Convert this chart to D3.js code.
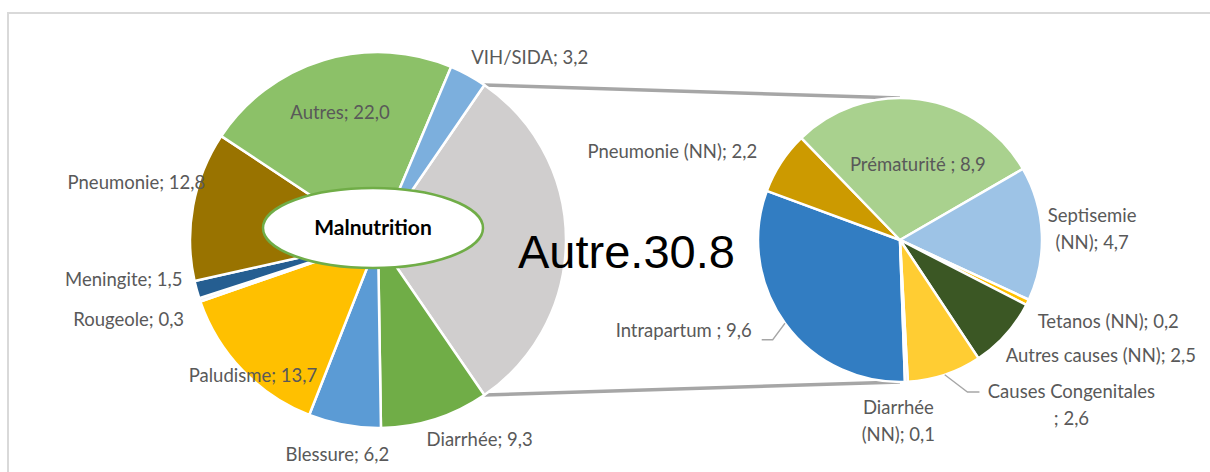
<!DOCTYPE html>
<html>
<head>
<meta charset="utf-8">
<script src="https://cdn.jsdelivr.net/npm/d3@7"></script>
<style>
    body { margin: 0; background: #fff; }
    svg text { font-family: Lato, "Open Sans", sans-serif; }
</style>
</head>
<body>
<svg id="chart" width="1210" height="472"></svg>
<script>
// main pie (clockwise, starting with the split "Autre" slice)
const main_names = ["Autre", "Diarrhée", "Blessure", "Paludisme", "Rougeole", "Meningite", "Pneumonie", "Autres", "VIH/SIDA"];
const main_values = [30.8, 9.3, 6.2, 13.7, 0.3, 1.5, 12.8, 22.0, 3.2];
const main_colors = ["#d0cece", "#70ad47", "#5b9bd5", "#ffc000", "#f4f4f4", "#255e91", "#997300", "#8cc168", "#7cafdd"];

// secondary pie : breakdown of "Autre"
const sub_names = ["Intrapartum ", "Pneumonie (NN)", "Prématurité ", "Septisemie (NN)", "Tetanos (NN)", "Autres causes (NN)", "Causes Congenitales ", "Diarrhée (NN)"];
const sub_values = [9.6, 2.2, 8.9, 4.7, 0.2, 2.5, 2.6, 0.1];
const sub_colors = ["#327dc2", "#cc9a00", "#a9d18e", "#9dc3e6", "#ffc000", "#3b5724", "#ffcd33", "#e0e0e0"];

const center_label = "Malnutrition";
const split_label = "Autre.30.8";

// label placement: k = radial factor from slice middle, dx/dy = nudge
const main_layout = {
    "Autre":     null,
    "Diarrhée":  { k: 1.15, dx: 36, dy: -6, anchor: "middle" },
    "Blessure":  { k: 1.15, dx: -2, dy: 2, anchor: "middle" },
    "Paludisme": { k: 0.9, dx: -3, dy: 18, anchor: "middle" },
    "Rougeole":  { k: 1.15, dx: 11, dy: 11, anchor: "end" },
    "Meningite": { k: 1.15, dx: 13, dy: -18, anchor: "end" },
    "Pneumonie": { k: 1.15, dx: -29, dy: -18, anchor: "middle" },
    "Autres":    { k: 0.7, dx: 0, dy: -1, anchor: "middle" },
    "VIH/SIDA":  { k: 1.15, dx: 48, dy: 7, anchor: "middle" }
};
const sub_layout = {
    "Intrapartum ":         { k: 1.15, dx: -16, dy: -5, anchor: "end", leader: [[10, 9], [21, 9]] },
    "Pneumonie (NN)":       { k: 1.15, dx: -6, dy: 1, anchor: "end" },
    "Prématurité ":         { k: 0.55, dx: 7, dy: 2, anchor: "middle" },
    "Septisemie (NN)":      { k: 1.15, dx: 29, dy: -4, anchor: "middle", br: " (NN)" },
    "Tetanos (NN)":         { k: 1.15, dx: -9, dy: 10, anchor: "start" },
    "Autres causes (NN)":   { k: 1.15, dx: -16, dy: 7, anchor: "start" },
    "Causes Congenitales ": { k: 1.15, dx: 120, dy: 10, anchor: "middle", br: " ;", leader: [[-92, -13], [-104, -13]] },
    "Diarrhée (NN)":        { k: 1.15, dx: -9, dy: 18, anchor: "middle", br: " (NN)" }
};

const main_pie_c = { x: 378, y: 240, r: 188 };
const sub_pie_c = { x: 900, y: 240, r: 142 };
const fmt = v => d3.format(".1f")(v).replace(".", ",");
const lineH = 27;

const svg = d3.select("#chart");

// frame
svg.append("path")
    .attr("d", "M8,472 V13 H1210")
    .attr("fill", "none")
    .attr("stroke", "#d9d9d9")
    .attr("stroke-width", 2);

function polar(c, a, dist) {
    return [c.x + dist * Math.sin(a), c.y - dist * Math.cos(a)];
}

let main_total = d3.sum(main_values);
let main_start = Math.PI / 2 - (main_values[0] / main_total) * Math.PI;
let main_pie = d3.pie().sort(null).startAngle(main_start).endAngle(main_start + 2 * Math.PI);
let main_arcs = main_pie(main_values).map((d, i) => ({ ...d, name: main_names[i], color: main_colors[i] }));

let sub_start = 178 / 180 * Math.PI;
let sub_pie = d3.pie().sort(null).startAngle(sub_start).endAngle(sub_start + 2 * Math.PI);
let sub_arcs = sub_pie(sub_values).map((d, i) => ({ ...d, name: sub_names[i], color: sub_colors[i] }));

// series lines between the two pies
let split = main_arcs[0];
let series_lines = [
    [polar(main_pie_c, split.startAngle, main_pie_c.r), polar(sub_pie_c, 0, sub_pie_c.r)],
    [polar(main_pie_c, split.endAngle, main_pie_c.r), polar(sub_pie_c, Math.PI, sub_pie_c.r)]
];
svg.append("g").classed("series_lines", true)
    .selectAll("path")
    .data(series_lines)
    .enter()
    .append("path")
    .attr("d", d3.line())
    .attr("stroke", "#a6a6a6")
    .attr("stroke-width", 3.5)
    .attr("fill", "none");

function draw_pie(arcs, c, cls) {
    let arc = d3.arc().innerRadius(0).outerRadius(c.r);
    svg.append("g")
        .classed(cls, true)
        .attr("transform", `translate(${c.x}, ${c.y})`)
        .selectAll("path")
        .data(arcs)
        .enter()
        .append("path")
        .attr("d", arc)
        .attr("fill", d => d.color)
        .attr("stroke", "#fff")
        .attr("stroke-width", 2.5)
        .attr("stroke-linejoin", "round");
}
draw_pie(main_arcs, main_pie_c, "main_pie");
draw_pie(sub_arcs, sub_pie_c, "sub_pie");

function draw_labels(arcs, c, layout, cls) {
    let g = svg.append("g").classed(cls, true);
    arcs.forEach(d => {
        let l = layout[d.name];
        if (!l) return;
        let mid = (d.startAngle + d.endAngle) / 2;
        let p = polar(c, mid, c.r * l.k);
        let x = p[0] + l.dx, y = p[1] + l.dy;
        let txt = d.name + "; " + fmt(d.value);
        let lines = [txt];
        if (l.br) {
            let idx = txt.indexOf(l.br);
            lines = [txt.slice(0, idx), txt.slice(idx + 1)];
        }
        if (l.leader) {
            let pts = [polar(c, mid, c.r)].concat(l.leader.slice().reverse().map(o => [x + o[0], y + o[1]]));
            g.append("path")
                .attr("d", d3.line()(pts))
                .attr("fill", "none")
                .attr("stroke", "#a6a6a6")
                .attr("stroke-width", 1.3);
        }
        let t = g.append("text")
            .attr("text-anchor", l.anchor)
            .attr("fill", "#595959")
            .attr("font-size", "18.5px");
        let y0 = y - (lines.length - 1) * lineH / 2;
        lines.forEach((s, i) => {
            t.append("tspan")
                .attr("x", x)
                .attr("y", y0 + i * lineH)
                .attr("dy", "0.35em")
                .text(s);
        });
    });
}
draw_labels(main_arcs, main_pie_c, main_layout, "main_labels");
draw_labels(sub_arcs, sub_pie_c, sub_layout, "sub_labels");

// center ellipse
let eg = svg.append("g").attr("transform", `translate(${main_pie_c.x - 5}, ${main_pie_c.y - 12})`);
eg.append("ellipse")
    .attr("rx", 110)
    .attr("ry", 40)
    .attr("fill", "#fff")
    .attr("stroke", "#70ad47")
    .attr("stroke-width", 2.5);
eg.append("text")
    .attr("text-anchor", "middle")
    .attr("dy", "0.35em")
    .attr("font-weight", "bold")
    .attr("font-size", "21px")
    .attr("fill", "#000")
    .text(center_label);

svg.append("text")
    .attr("x", 518)
    .attr("y", 268)
    .style("font-family", "Arial, 'Liberation Sans', sans-serif")
    .attr("font-size", "47px")
    .attr("fill", "#000")
    .text(split_label);
</script>
</body>
</html>
